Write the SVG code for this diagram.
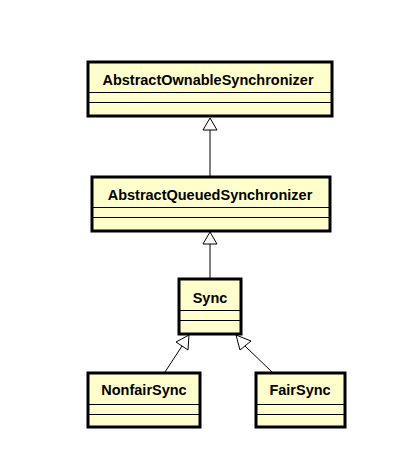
<svg xmlns="http://www.w3.org/2000/svg" width="408" height="463" viewBox="0 0 408 463">
<defs>
<style>
.box{fill:#FFFFCC;stroke:#000;stroke-width:3}
.sep{stroke:#000;stroke-width:1}
.t{font-family:"Liberation Sans",Arial,sans-serif;font-weight:bold;font-size:14.5px;text-anchor:middle;fill:#000}
.edge{stroke:#000;stroke-width:1;fill:none}
.head{fill:#fff;stroke:#000;stroke-width:1}
</style>
</defs>
<rect width="408" height="463" fill="#fff"/>
<g id="connectors">
<line class="edge" x1="210" y1="177" x2="210" y2="130"/>
<polygon class="head" points="210,118 203,130 217,130"/>
<line class="edge" x1="210" y1="278" x2="210" y2="244"/>
<polygon class="head" points="210,232 203,244 217,244"/>
<line class="edge" x1="165" y1="372" x2="182" y2="346"/>
<polygon class="head" points="189,335 176,342 188,350"/>
<line class="edge" x1="272" y1="372" x2="245" y2="346"/>
<polygon class="head" points="236,335 240,350 251,341"/>
</g>
<g id="AbstractOwnableSynchronizer">
<rect class="box" x="88" y="62" width="244" height="54"/>
<line class="sep" x1="88" y1="92.5" x2="332" y2="92.5"/>
<line class="sep" x1="88" y1="102.5" x2="332" y2="102.5"/>
<text class="t" x="208" y="85">AbstractOwnableSynchronizer</text>
</g>
<g id="AbstractQueuedSynchronizer">
<rect class="box" x="92" y="177" width="238" height="54"/>
<line class="sep" x1="92" y1="207.5" x2="330" y2="207.5"/>
<line class="sep" x1="92" y1="217.5" x2="330" y2="217.5"/>
<text class="t" x="210" y="200">AbstractQueuedSynchronizer</text>
</g>
<g id="Sync">
<rect class="box" x="179" y="279" width="62" height="55"/>
<line class="sep" x1="179" y1="310.5" x2="241" y2="310.5"/>
<line class="sep" x1="179" y1="320.5" x2="241" y2="320.5"/>
<text class="t" x="210" y="303">Sync</text>
</g>
<g id="NonfairSync">
<rect class="box" x="88" y="373" width="112" height="54"/>
<line class="sep" x1="88" y1="404.5" x2="200" y2="404.5"/>
<line class="sep" x1="88" y1="414.5" x2="200" y2="414.5"/>
<text class="t" x="144" y="395">NonfairSync</text>
</g>
<g id="FairSync">
<rect class="box" x="256" y="373" width="89" height="54"/>
<line class="sep" x1="256" y1="404.5" x2="345" y2="404.5"/>
<line class="sep" x1="256" y1="414.5" x2="345" y2="414.5"/>
<text class="t" x="300" y="395">FairSync</text>
</g>
</svg>
